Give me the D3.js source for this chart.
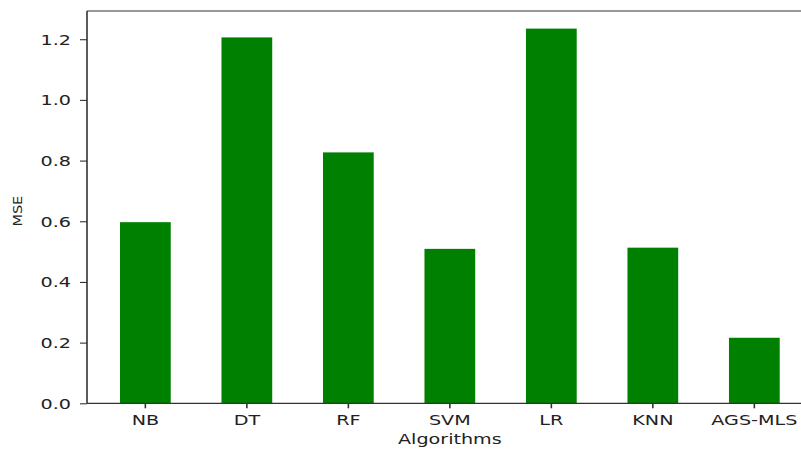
<!DOCTYPE html>
<html>
<head>
<meta charset="utf-8">
<script src="https://cdn.jsdelivr.net/npm/d3@7"></script>
<style>
  body { margin: 0; background: #fff; }
  svg { display: block; }
  text { font-family: "DejaVu Sans", sans-serif; fill: #222; }
</style>
</head>
<body>
<svg id="chart" width="801" height="449"></svg>
<script>
const categories = ["NB", "DT", "RF", "SVM", "LR", "KNN", "AGS-MLS"];
const mseValues = [0.597, 1.206, 0.827, 0.509, 1.235, 0.513, 0.216];
const yTicks = [0.0, 0.2, 0.4, 0.6, 0.8, 1.0, 1.2];
const xLabel = "Algorithms";
const yLabel = "MSE";

const svg = d3.select("#chart");
const pLeft = 87, pRight = 812.7, pTop = 11, pBottom = 403.3;
const SX = 1.42;

const x = d3.scaleBand().domain(categories).range([pLeft, pRight])
  .paddingInner(0.5).paddingOuter(0.325);
const y = d3.scaleLinear().domain([0, 1.293]).range([pBottom, pTop]);

// bars
svg.append("g").selectAll("rect").data(mseValues).join("rect")
  .attr("x", (d, i) => x(categories[i]))
  .attr("width", x.bandwidth())
  .attr("y", d => y(d))
  .attr("height", d => pBottom - y(d))
  .attr("fill", "#008000");

// spines
svg.append("line").attr("x1", pLeft).attr("x2", pRight).attr("y1", pTop).attr("y2", pTop)
  .attr("stroke", "#333").attr("stroke-width", 1.2);
svg.append("line").attr("x1", pLeft).attr("x2", pRight).attr("y1", pBottom).attr("y2", pBottom)
  .attr("stroke", "#333").attr("stroke-width", 1.2);
svg.append("line").attr("x1", pLeft).attr("x2", pLeft).attr("y1", pTop).attr("y2", pBottom)
  .attr("stroke", "#333").attr("stroke-width", 1.6);

// y axis ticks
const yAxis = d3.axisLeft(y).tickValues(yTicks).tickSize(0).tickFormat(d3.format(".1f"));
const yg = svg.append("g").attr("transform", `translate(${pLeft},0)`).call(yAxis);
yg.select(".domain").remove();
yg.selectAll(".tick text").remove();
yg.selectAll(".tick").each(function(d) {
  const t = d3.select(this);
  t.append("line").attr("x1", -7).attr("x2", 0).attr("stroke", "#333").attr("stroke-width", 1.1);
  t.append("g").attr("transform", `translate(-16,0) scale(${SX},1)`)
    .append("text").attr("text-anchor", "end").attr("dy", "0.36em")
    .style("font-size", "13.5px").text(d3.format(".1f")(d));
});

// x axis ticks
const xAxis = d3.axisBottom(x).tickSize(0);
const xg = svg.append("g").attr("transform", `translate(0,${pBottom})`).call(xAxis);
xg.select(".domain").remove();
xg.selectAll(".tick text").remove();
xg.selectAll(".tick").each(function(d) {
  const t = d3.select(this);
  t.append("line").attr("y1", 0).attr("y2", 5).attr("stroke", "#333").attr("stroke-width", 1.6);
  t.append("g").attr("transform", `translate(0,22) scale(${SX},1)`)
    .append("text").attr("text-anchor", "middle")
    .style("font-size", "13.5px").text(d);
});

// axis labels
svg.append("g").attr("transform", `translate(${(pLeft + pRight) / 2},444) scale(${SX},1)`)
  .append("text").attr("text-anchor", "middle").style("font-size", "13.5px").text(xLabel);

svg.append("g").attr("transform", `translate(21.5,${(pTop + pBottom) / 2 + 4}) rotate(-90) scale(1,0.85)`)
  .append("text").attr("text-anchor", "middle").style("font-size", "14.5px").text(yLabel);
</script>
</body>
</html>
